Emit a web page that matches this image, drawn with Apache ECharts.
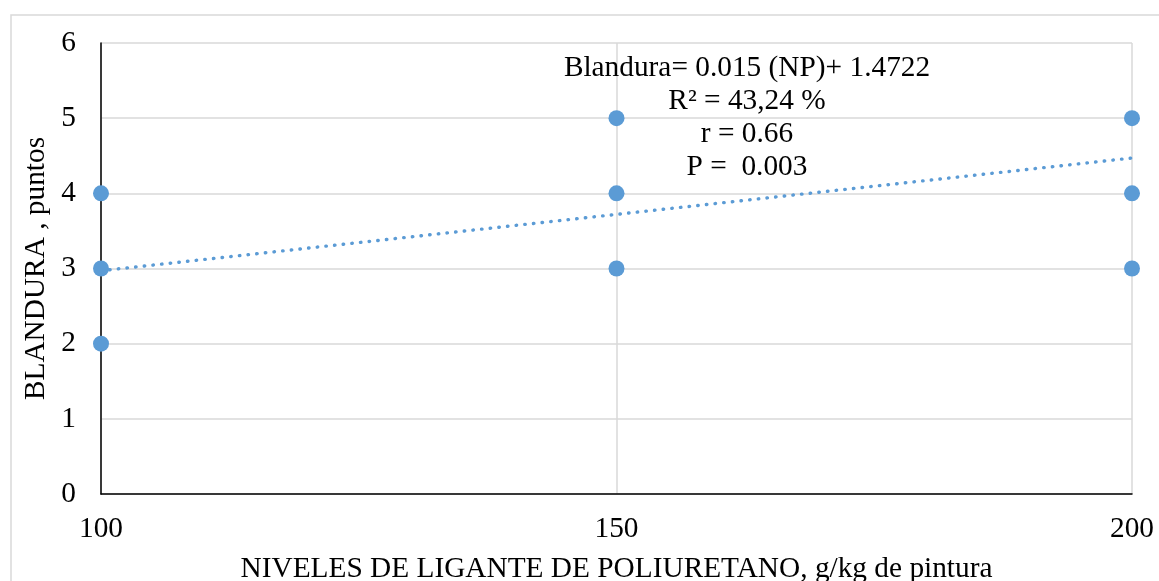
<!DOCTYPE html>
<html>
<head>
<meta charset="utf-8">
<script src="https://cdn.jsdelivr.net/npm/echarts@6/dist/echarts.min.js"></script>
<style>html,body{margin:0;padding:0;background:#fff}#c{width:1159px;height:581px}</style>
</head>
<body>
<div id="c"></div>
<script>
// Observed points (x = NP level, y = Blandura)
var pointsX = [100, 100, 100, 150, 150, 150, 200, 200, 200];
var pointsY = [2, 3, 4, 3, 4, 5, 3, 4, 5];
// Trendline endpoints
var trendX = [100, 200];
var trendY = [2.97, 4.47];
var xTicks = [100, 150, 200];
var yTicks = [0, 1, 2, 3, 4, 5, 6];
var annotation = ['Blandura= 0.015 (NP)+ 1.4722', 'R² = 43,24 %', 'r = 0.66', 'P =  0.003'];
var xName = 'NIVELES DE LIGANTE DE POLIURETANO, g/kg de pintura';
var yName = 'BLANDURA , puntos';

var font = '"Liberation Serif", "Times New Roman", serif';
var fs = 29.33;
var chart = echarts.init(document.getElementById('c'));
var scatterData = pointsX.map(function (x, i) { return [x, pointsY[i]]; });
var trendData = trendX.map(function (x, i) { return [x, trendY[i]]; });

chart.setOption({
  animation: false,
  backgroundColor: '#fff',
  grid: { left: 101, right: 27, top: 43, bottom: 87, containLabel: false, outerBoundsMode: 'none' },
  xAxis: {
    type: 'value', min: xTicks[0], max: xTicks[xTicks.length - 1], interval: 50,
    axisLine: { lineStyle: { color: '#000', width: 1.5 } },
    axisTick: { show: false },
    axisLabel: { color: '#000', fontFamily: font, fontSize: fs, margin: 21 },
    splitLine: { show: true, lineStyle: { color: '#d9d9d9', width: 1.5 } },
    name: xName, nameLocation: 'middle', nameGap: 61,
    nameTextStyle: { color: '#000', fontFamily: font, fontSize: fs }
  },
  yAxis: {
    type: 'value', min: yTicks[0], max: yTicks[yTicks.length - 1], interval: 1,
    axisLine: { show: true, lineStyle: { color: '#000', width: 1.5 } },
    axisTick: { show: false },
    axisLabel: { color: '#000', fontFamily: font, fontSize: fs, margin: 25 },
    splitLine: { show: true, lineStyle: { color: '#d9d9d9', width: 1.5 } },
    name: yName, nameLocation: 'middle', nameGap: 48,
    nameTextStyle: { color: '#000', fontFamily: font, fontSize: fs }
  },
  graphic: [
    { type: 'rect', shape: { x: 11, y: 15, width: 1170, height: 620 }, style: { fill: 'none', stroke: '#d9d9d9', lineWidth: 1.5 }, z: -10, silent: true },
    { type: 'text', left: 747 - 250, top: 52, z: 100, style: { text: annotation.join('\n'), width: 500, align: 'center', textAlign: 'center', x: 250, font: fs + 'px ' + font, fill: '#000', lineHeight: 33 } }
  ],
  series: [
    {
      type: 'line', data: trendData, showSymbol: false, symbol: 'none',
      lineStyle: { color: '#5B9BD5', width: 3.4, type: [0.5, 8.2], cap: 'round' },
      z: 3
    },
    {
      type: 'scatter', data: scatterData, symbolSize: 16,
      itemStyle: { color: '#5B9BD5', opacity: 1 },
      z: 4
    }
  ]
});
</script>
</body>
</html>
